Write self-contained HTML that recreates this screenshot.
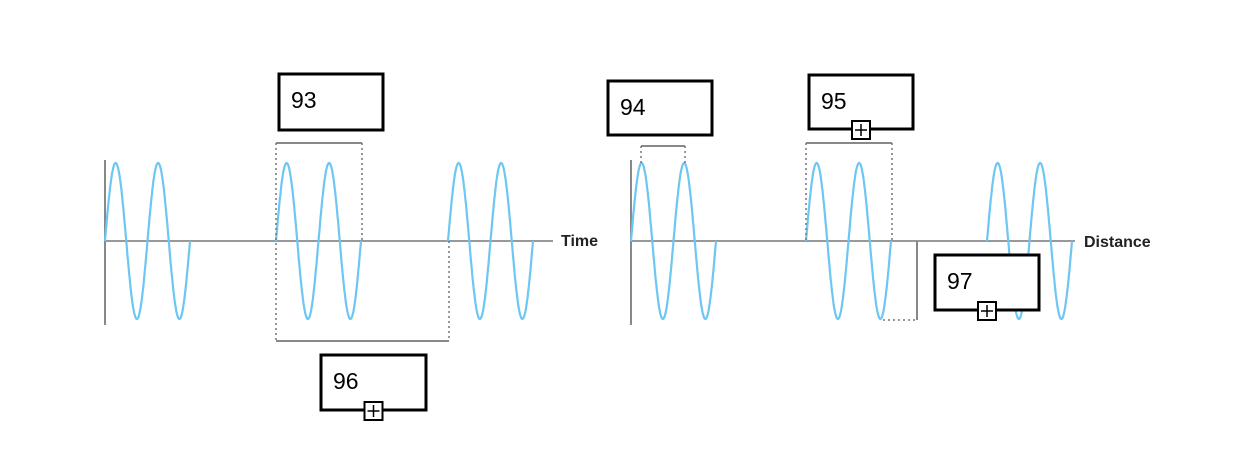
<!DOCTYPE html>
<html><head><meta charset="utf-8"><style>
html,body{margin:0;padding:0;background:#fff;}
svg{display:block;}
.lbl{font-family:"Liberation Sans",sans-serif;font-size:23px;fill:#000;}
.ax{font-family:"Liberation Sans",sans-serif;font-size:16px;font-weight:bold;fill:#222;}
</style></head><body>
<svg id="c" width="1258" height="456" viewBox="0 0 1258 456"></svg>
<script>
const waveStartsLeft = [105, 276, 448];
const waveStartsRight = [631, 806, 987];
const cycles = [2, 2, 2];
const period = 42.5;
const amplitude = 78;
const boxLabels = ["93", "94", "95", "96", "97"];
const NS = "http://www.w3.org/2000/svg";
const svg = document.getElementById('c');
function mk(t, a, parent) { const e = document.createElementNS(NS, t); for (const k in a) e.setAttribute(k, a[k]); (parent || svg).appendChild(e); return e; }
const axisY = 241;
function yOf(v) { return axisY - v * amplitude; }

let g = mk('g', {});


mk('line', {x1:105, y1:160, x2:105, y2:325, stroke:'#888', 'stroke-width':2}, g);
mk('line', {x1:105, y1:axisY, x2:553, y2:axisY, stroke:'#999', 'stroke-width':2}, g);
let t = mk('text', {x:561, y:246, class:'ax'}, g); t.textContent = 'Time';
g = mk('g', {});


mk('line', {x1:631, y1:160, x2:631, y2:325, stroke:'#888', 'stroke-width':2}, g);
mk('line', {x1:631, y1:axisY, x2:1075, y2:axisY, stroke:'#999', 'stroke-width':2}, g);
t = mk('text', {x:1084, y:247, class:'ax'}, g); t.textContent = 'Distance';

function wave(x0, n, name) {
  let d = '';
  for (let i = 0; i <= 200; i++) {
    const x = x0 + (i / 200) * n * period;
    const y = yOf(Math.sin(2 * Math.PI * (i / 200) * n));
    d += (i ? 'L' : 'M') + x.toFixed(1) + ' ' + y.toFixed(1);
  }
  const p = mk('path', {d, fill:'none', stroke:'#6ec6f2', 'stroke-width':2.2});
  
  
}
waveStartsLeft.forEach((x, i) => wave(x, cycles[i], 'time-wave-' + (i + 1)));
waveStartsRight.forEach((x, i) => wave(x, cycles[i], 'distance-wave-' + (i + 1)));

const solid = {stroke:'#888', 'stroke-width':2, fill:'none'};
const dash = {stroke:'#777', 'stroke-width':1.5, 'stroke-dasharray':'2,3', fill:'none'};
mk('line', Object.assign({x1:276, y1:143, x2:362, y2:143}, solid));
mk('line', Object.assign({x1:276, y1:143, x2:276, y2:341}, dash));
mk('line', Object.assign({x1:362, y1:143, x2:362, y2:241}, dash));
mk('line', Object.assign({x1:276, y1:341, x2:449, y2:341}, solid));
mk('line', Object.assign({x1:449, y1:241, x2:449, y2:341}, dash));
mk('line', Object.assign({x1:641, y1:146, x2:685, y2:146}, solid));
mk('line', Object.assign({x1:641, y1:146, x2:641, y2:164}, dash));
mk('line', Object.assign({x1:685, y1:146, x2:685, y2:164}, dash));
mk('line', Object.assign({x1:806, y1:143, x2:892, y2:143}, solid));
mk('line', Object.assign({x1:806, y1:143, x2:806, y2:241}, dash));
mk('line', Object.assign({x1:892, y1:143, x2:892, y2:241}, dash));
mk('line', Object.assign({x1:917, y1:241, x2:917, y2:320}, solid));
mk('line', Object.assign({x1:883, y1:320, x2:917, y2:320}, dash));

const boxes = [[279,74,104,56,false],[608,81,104,54,false],[809,75,104,54,true],[321,355,105,55,true],[935,255,104,55,true]];
boxes.forEach((b, i) => {
  const bg = mk('g', {});
  
  
  mk('rect', {x:b[0], y:b[1], width:b[2], height:b[3], fill:'#fff', stroke:'#000', 'stroke-width':3}, bg);
  const tx = mk('text', {x:b[0] + 12, y:b[1] + 34, class:'lbl'}, bg);
  tx.textContent = boxLabels[i];
  if (b[4]) {
    const cx = b[0] + b[2] / 2 - 9, cy = b[1] + b[3] - 8;
    const pg = mk('g', {}, bg);
    
    
    mk('rect', {x:cx, y:cy, width:18, height:18, fill:'#fff', stroke:'#000', 'stroke-width':2}, pg);
    mk('line', {x1:cx + 3, y1:cy + 9, x2:cx + 15, y2:cy + 9, stroke:'#000', 'stroke-width':1.5}, pg);
    mk('line', {x1:cx + 9, y1:cy + 3, x2:cx + 9, y2:cy + 15, stroke:'#000', 'stroke-width':1.5}, pg);
  }
});
</script>
</body></html>
